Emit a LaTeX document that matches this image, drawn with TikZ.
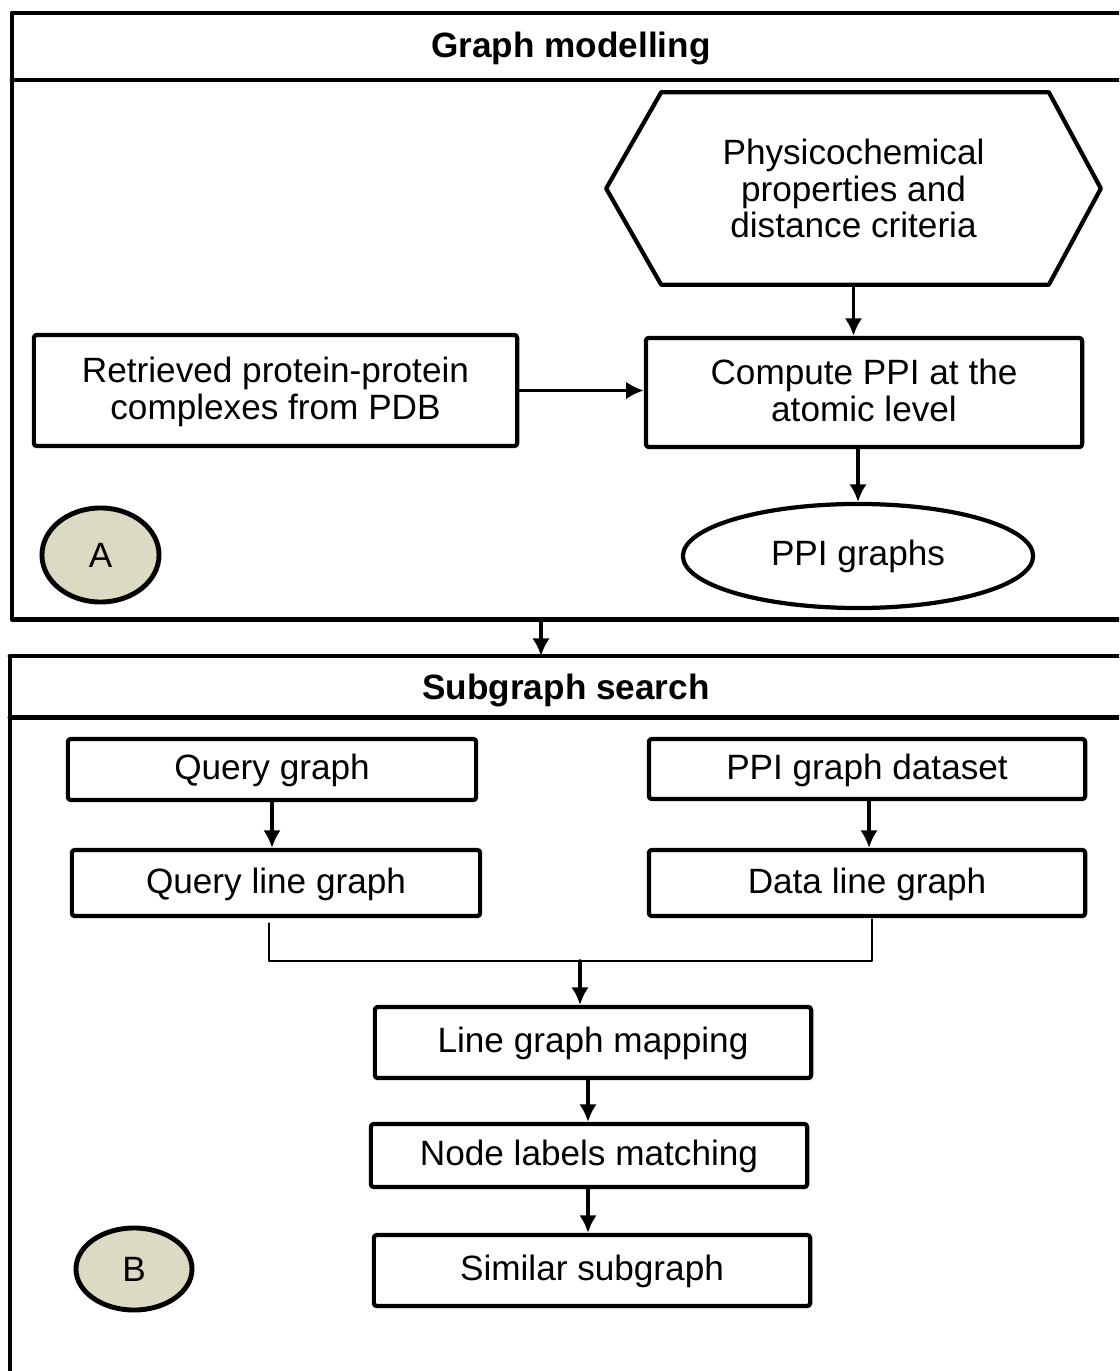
\documentclass[tikz,border=0pt]{standalone}
\usepackage{fontspec}
\setmainfont{Liberation Sans}
\usetikzlibrary{arrows.meta,shapes.geometric}
\definecolor{tanfill}{RGB}{221,218,196}

\begin{document}
\begin{tikzpicture}[x=0.01cm, y=-0.01cm, >={Latex[length=5pt,width=5pt]},
    line cap=round, line join=round]

% --- Global TikZ Styles for Consistency ---
\tikzset{
    frameline/.style={
        draw=black,
        line width=1.4pt
    },
    stepbox/.style={
        draw=black,
        line width=1.2pt,
        rounded corners=0.8pt,
        rectangle,
        align=center,
        text depth=0.15em,
        font=\fontsize{10}{10.5}\selectfont
    },
    oval/.style={
        draw=black,
        line width=1.2pt,
        ellipse,
        font=\fontsize{10}{10.5}\selectfont
    },
    tag/.style={
        oval,
        fill=tanfill,
        line width=1.4pt
    },
    arr/.style={
        ->,
        line width=1pt,
        draw=black
    },
    thinline/.style={
        draw=black,
        line width=0.4pt
    },
    title/.style={
        font=\bfseries\fontsize{10}{12}\selectfont
    }
}

\clip (0,0) rectangle (1119,1371);

% =========================================================================
% --- Frame A: Graph modelling ---
% =========================================================================
\draw[frameline] (1130,13) -- (12,13) -- (12,619.5) -- (1130,619.5);
\draw[frameline] (12,80) -- (1130,80);
\node[title] (titleA) at (571,49) {Graph modelling};
\coordinate (frameAbot) at (541,619.5);

% --- Hexagon with the criteria ---
\node[align=center, font=\fontsize{10}{10.5}\selectfont,
      minimum width=4.93cm, minimum height=1.91cm] (props) at (853.5,188.5)
      {Physicochemical\\properties and\\distance criteria};
\draw[frameline, line width=1.2pt]
    (props.west) -- ([xshift=0.55cm]props.north west)
    -- ([xshift=-0.52cm]props.north east) -- (props.east)
    -- ([xshift=-0.52cm]props.south east)
    -- ([xshift=0.55cm]props.south west) -- cycle;

% --- Steps ---
\node[stepbox, minimum width=4.83cm, minimum height=1.11cm] (retr) at (275.5,390.5)
      {Retrieved protein-protein\\complexes from PDB};
\node[stepbox, minimum width=4.36cm, minimum height=1.09cm] (comp) at (864,392.5)
      {Compute PPI at the\\atomic level};
\node[oval, minimum width=3.50cm, minimum height=1.04cm] (ppi) at (858,556) {PPI graphs};
\node[tag, minimum width=1.17cm, minimum height=0.94cm] (tagA) at (100.5,555) {A};

\draw[arr] (retr.east) -- (retr.east -| comp.west);
\draw[arr] (props.south) -- (props.south |- comp.north);
\draw[arr] (ppi.north |- comp.south) -- (ppi.north);

% =========================================================================
% --- Frame B: Subgraph search ---
% =========================================================================
\draw[frameline] (1130,656) -- (10,656);
\draw[frameline, line width=1pt] (10,656) -- (10,1380);
\draw[frameline] (10,717.5) -- (1130,717.5);
\node[title] (titleB) at (566,690) {Subgraph search};
\coordinate (frameBtop) at (541,656);

\draw[arr] (frameAbot) -- (frameBtop);

% --- Query and data side ---
\node[stepbox, minimum width=4.08cm, minimum height=0.61cm] (qg) at (272,769.5) {Query graph};
\node[stepbox, minimum width=4.36cm, minimum height=0.60cm] (pd) at (867,769) {PPI graph dataset};
\node[stepbox, minimum width=4.08cm, minimum height=0.66cm] (qlg) at (276,883) {Query line graph};
\node[stepbox, minimum width=4.36cm, minimum height=0.66cm] (dlg) at (867,883) {Data line graph};

\draw[arr] (qg.south) -- (qg.south |- qlg.north);
\draw[arr] ([xshift=0.02cm]pd.south) -- ([xshift=0.02cm]pd.south |- dlg.north);

% --- Merge of both line graphs ---
\coordinate (merge) at (580,961);
\draw[thinline] ([xshift=-0.07cm, yshift=-0.05cm]qlg.south) |- (merge)
    -| ([xshift=0.05cm, yshift=-0.01cm]dlg.south);

% --- Mapping steps ---
\node[stepbox, minimum width=4.36cm, minimum height=0.71cm] (lgm) at (593,1042.5) {Line graph mapping};
\node[stepbox, minimum width=4.36cm, minimum height=0.63cm] (nlm) at (589,1155.5) {Node labels matching};
\node[stepbox, minimum width=4.36cm, minimum height=0.71cm] (sim) at (592,1270.5) {Similar subgraph};
\node[tag, minimum width=1.16cm, minimum height=0.82cm] (tagB) at (134,1269) {B};

\draw[arr] (merge) -- (merge |- lgm.north);
\draw[arr] ([xshift=-0.01cm]nlm.north |- lgm.south) -- ([xshift=-0.01cm]nlm.north);
\draw[arr] ([xshift=-0.01cm]nlm.south) -- ([xshift=-0.01cm]nlm.south |- sim.north);

\end{tikzpicture}
\end{document}
